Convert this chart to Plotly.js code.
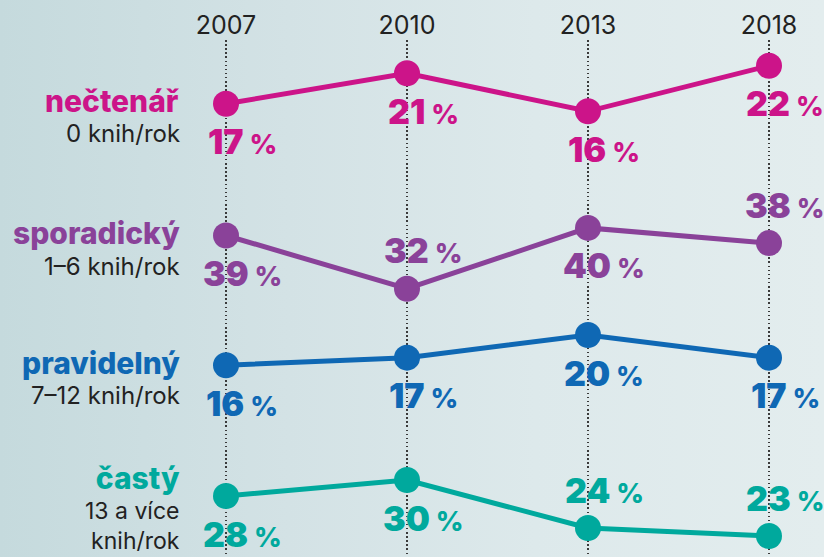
<!DOCTYPE html>
<html>
<head>
<meta charset="utf-8">
<script src="https://cdn.plot.ly/plotly-3.0.1.min.js"></script>
<style>
  html, body { margin: 0; padding: 0; }
  body { width: 824px; height: 557px; overflow: hidden;
         background: linear-gradient(to right, #c5dadd 0%, #d3e2e5 35%, #dde9eb 65%, #e3edee 100%); }
  #chart { width: 824px; height: 557px; }
</style>
</head>
<body>
<div id="chart"></div>
<script>
// ---------------- DATA ----------------
const years = ['2007', '2010', '2013', '2018'];
const seriesNames = ['nečtenář', 'sporadický', 'pravidelný', 'častý'];
const seriesSub = ['0 knih/rok', '1–6 knih/rok', '7–12 knih/rok', '13 a více<br>knih/rok'];
const nectenar   = [17, 21, 16, 22];
const sporadicky = [39, 32, 40, 38];
const pravidelny = [16, 17, 20, 17];
const casty      = [28, 30, 24, 23];
const seriesValues = [nectenar, sporadicky, pravidelny, casty];

// ---------------- STYLE / LAYOUT ----------------
const W = 824, H = 557, TOP = 40;
const colors = ['#cc1489', '#8a4299', '#0f68b4', '#00a99d'];
// which side of the marker each value label sits on (1 = above, -1 = below)
const labelSide = [[-1, -1, -1, -1], [-1, 1, -1, 1], [-1, -1, -1, -1], [-1, -1, 1, 1]];
// vertical band of each series: pixel of the series mean and pixels per percent
const bandCenterPx = [88.5, 248.8, 353.9, 510];
const pxPerPct = [7.6, 7.6, 7.55, 8.0];
// left label block: pixel y of the bold name and of the sub text (null = bottom block)
const nameY = [101, 233, 363, null];
const subY = [134, 266, 395, null];

const FONT = 'Inter, "Open Sans", sans-serif';
const plotH = H - TOP;

function mean(a) { return a.reduce((s, v) => s + v, 0) / a.length; }
function pyToPaper(py) { return (H - py) / plotH; }

const traces = seriesValues.map((vals, s) => ({
  type: 'scatter', mode: 'lines+markers',
  x: years, y: vals,
  yaxis: s === 0 ? 'y' : 'y' + (s + 1),
  line: { color: colors[s], width: 5 },
  marker: { color: colors[s], size: 26 },
  cliponaxis: false, hoverinfo: 'skip'
}));

const layout = {
  width: W, height: H,
  margin: { l: 0, r: 0, t: TOP, b: 0 },
  paper_bgcolor: 'rgba(0,0,0,0)', plot_bgcolor: 'rgba(0,0,0,0)',
  showlegend: false,
  xaxis: {
    type: 'category', side: 'top',
    range: [-226 / 181, (W - 226) / 181],
    showgrid: true, gridcolor: '#3a3a3a', gridwidth: 1.4, griddash: '1.5px,2.6px',
    zeroline: false, showline: false, ticks: '',
    tickfont: { family: FONT, size: 25, color: '#222' },
    ticklabelstandoff: 0,
    fixedrange: true
  },
  annotations: []
};

seriesValues.forEach((vals, s) => {
  const k = pxPerPct[s];
  const hi = mean(vals) + (bandCenterPx[s] - TOP) / k;
  const lo = hi - plotH / k;
  const ax = {
    range: [lo, hi], domain: [0, 1], visible: false, showgrid: false,
    zeroline: false, fixedrange: true
  };
  if (s > 0) ax.overlaying = 'y';
  layout[s === 0 ? 'yaxis' : 'yaxis' + (s + 1)] = ax;

  vals.forEach((v, i) => {
    layout.annotations.push({
      x: i, y: v, xref: 'x', yref: s === 0 ? 'y' : 'y' + (s + 1),
      xanchor: 'center', yanchor: 'middle',
      xshift: 16, yshift: 38 * labelSide[s][i],
      showarrow: false,
      text: v + '<span style="font-size:27px;font-weight:800"> %</span>',
      font: { family: FONT, size: 34, color: colors[s], weight: 900 }
    });
  });

  if (nameY[s] !== null) {
    layout.annotations.push({
      x: 182 / W, y: pyToPaper(nameY[s]), xref: 'paper', yref: 'paper',
      xanchor: 'right', yanchor: 'middle', showarrow: false,
      text: seriesNames[s],
      font: { family: FONT, size: 30, color: colors[s], weight: 800 }
    });
    layout.annotations.push({
      x: 182 / W, y: pyToPaper(subY[s]), xref: 'paper', yref: 'paper',
      xanchor: 'right', yanchor: 'middle', align: 'right', showarrow: false,
      text: seriesSub[s],
      font: { family: FONT, size: 24, color: '#222', weight: 400 }
    });
  } else {
    // bottom block: name and two sub lines in one text, anchored to the bottom edge
    layout.annotations.push({
      x: 182 / W, y: 0, xref: 'paper', yref: 'paper',
      xanchor: 'right', yanchor: 'bottom', align: 'right', showarrow: false,
      text: '<span style="font-size:30px;font-weight:800;fill:' + colors[s] + '">' +
            seriesNames[s] + '</span><br>' + seriesSub[s],
      font: { family: FONT, size: 23, color: '#222', weight: 400 }
    });
  }
});

Plotly.newPlot('chart', traces, layout, { displayModeBar: false, staticPlot: true });
</script>
</body>
</html>
